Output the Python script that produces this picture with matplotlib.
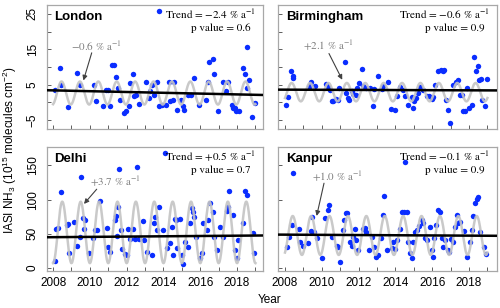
import matplotlib
matplotlib.use("Agg")
import matplotlib.pyplot as plt
import numpy as np

plt.rcParams['font.family'] = ['Liberation Sans', 'DejaVu Sans']
plt.rcParams['mathtext.fontset'] = 'stix'
plt.rcParams['mathtext.rm'] = 'Liberation Sans'
plt.rcParams['mathtext.it'] = 'Liberation Sans:italic'
plt.rcParams['mathtext.bf'] = 'Liberation Sans:bold'

# ---- monthly IASI NH3 columns (time in decimal years) ----
london_t = [2008.11, 2008.38, 2008.43, 2008.79, 2009.28, 2009.46, 2010.23, 2010.36, 2010.72, 2010.86,
            2011.0, 2011.08, 2011.23, 2011.31, 2011.44, 2011.53, 2011.62, 2011.85, 2011.98, 2012.12,
            2012.2, 2012.34, 2012.39, 2012.52, 2012.66, 2013.06, 2013.19, 2013.28, 2013.35, 2013.46,
            2013.64, 2013.76, 2013.78, 2013.93, 2014.15, 2014.29, 2014.36, 2014.5, 2014.59, 2014.72,
            2014.96, 2015.04, 2015.14, 2015.31, 2015.5, 2015.64, 2015.95, 2016.31, 2016.4, 2016.49,
            2016.67, 2016.76, 2016.94, 2017.24, 2017.39, 2017.53, 2017.71, 2017.78, 2017.89, 2017.96,
            2018.11, 2018.32, 2018.43, 2018.52, 2018.56, 2018.65, 2018.83, 2018.97]
london_v = [3.6, 9.7, 5.0, -1.3, 8.3, 5.0, 5.0, 0.3, -1.1, 3.6,
            3.4, -1.1, 10.6, 10.6, 7.3, 4.1, 0.8, -3.0, -2.5, -1.1,
            5.6, 8.1, 1.7, 2.2, -0.4, 5.9, 1.3, 3.1, 5.0, 2.2,
            5.9, 25.7, -1.1, -0.6, -0.6, 5.9, 0.3, 0.8, 5.9, -2.0,
            0.8, -1.1, -2.0, 2.2, 2.2, 6.9, -0.6, 0.8, 5.9, 11.3,
            12.2, 8.1, -2.5, 5.9, 3.1, 5.9, -0.6, -1.6, -1.6, -2.5,
            -2.5, 9.7, 8.1, 4.1, 15.6, 6.4, -4.1, -0.2]

birm_t = [2008.05, 2008.15, 2008.31, 2008.42, 2008.45, 2009.32, 2009.36, 2009.41, 2009.63, 2010.23,
          2010.35, 2010.45, 2010.54, 2010.63, 2010.77, 2010.9, 2010.95, 2011.26, 2011.32, 2011.44,
          2011.5, 2011.62, 2011.71, 2011.86, 2011.93, 2012.04, 2012.17, 2012.22, 2012.4, 2012.62,
          2012.77, 2012.84, 2013.07, 2013.26, 2013.34, 2013.58, 2013.74, 2013.98, 2014.07, 2014.25,
          2014.4, 2014.52, 2014.67, 2014.89, 2014.97, 2015.03, 2015.12, 2015.25, 2015.34, 2015.48,
          2015.7, 2015.84, 2015.97, 2016.06, 2016.15, 2016.33, 2016.46, 2016.57, 2016.66, 2016.75,
          2016.88, 2016.97, 2017.15, 2017.29, 2017.42, 2017.51, 2017.6, 2017.69, 2017.78, 2017.87,
          2018.0, 2018.15, 2018.29, 2018.36, 2018.51, 2018.56, 2018.64, 2018.72, 2018.87, 2018.96]
birm_v = [-0.7, 1.5, 9.0, 6.9, 7.5, 4.3, 5.0, 5.9, 4.7, 5.3,
          4.3, 3.4, 0.3, 0.3, 1.0, 0.8, 4.1, 11.3, 2.6, 1.2,
          0.6, 3.1, 2.5, 2.2, 4.1, 5.5, 9.5, 4.7, 4.1, 4.1,
          -1.1, 3.8, 7.5, 3.8, 4.7, 5.7, -1.9, -2.1, 1.7, 4.3,
          3.6, 1.7, -0.7, 1.5, -1.6, 0.3, 1.2, 2.8, 4.3, 3.6,
          1.7, 1.7, 1.0, 1.5, 5.0, 8.8, 9.2, 8.8, 9.1, 0.8,
          -2.1, -5.7, 5.0, 5.9, 6.2, 2.2, 2.2, -2.5, -2.5, 4.1,
          -1.6, -0.7, 12.8, 9.0, 10.4, 6.4, 6.6, 0.6, -0.9, 6.6]

delhi_t = [2008.11, 2008.16, 2008.29, 2008.43, 2008.74, 2008.83, 2008.89, 2009.14, 2009.32, 2009.47,
           2009.52, 2009.61, 2009.68, 2009.74, 2009.97, 2010.19, 2010.28, 2010.41, 2010.55, 2010.92,
           2011.01, 2011.1, 2011.37, 2011.42, 2011.46, 2011.55, 2011.58, 2011.68, 2011.73, 2011.91,
           2012.0, 2012.09, 2012.18, 2012.36, 2012.46, 2012.58, 2012.69, 2012.87, 2012.95, 2013.09,
           2013.36, 2013.49, 2013.54, 2013.67, 2013.78, 2014.0, 2014.09, 2014.18, 2014.36, 2014.45,
           2014.54, 2014.63, 2014.68, 2014.76, 2014.9, 2014.99, 2015.08, 2015.17, 2015.35, 2015.45,
           2015.54, 2015.59, 2015.66, 2015.77, 2015.99, 2016.08, 2016.17, 2016.35, 2016.44, 2016.53,
           2016.71, 2016.75, 2016.9, 2017.08, 2017.26, 2017.47, 2017.53, 2017.58, 2017.8, 2017.89,
           2017.98, 2018.07, 2018.34, 2018.43, 2018.53, 2018.85, 2018.92]
delhi_v = [10.2, 56.6, 58.1, 110.8, 63.0, 64.4, 21.5, 67.8, 32.2, 45.8,
           133.7, 72.7, 56.6, 70.3, 21.5, 43.4, 55.6, 55.6, 98.6, 58.1,
           31.2, 23.9, 70.3, 76.1, 46.9, 89.8, 145.0, 55.6, 27.4, 20.5,
           19.0, 56.6, 42.0, 56.6, 42.0, 148.3, 42.0, 68.8, 41.0, 23.9,
           19.0, 65.4, 74.2, 55.6, 89.8, 55.6, 168.8, 28.8, 36.2, 59.6,
           19.0, 71.3, 70.3, 28.8, 71.3, 19.0, 5.9, 38.5, 31.2, 65.4,
           87.4, 82.4, 75.1, 45.8, 14.2, 21.5, 65.4, 55.6, 70.3, 94.7,
           82.4, 45.8, 26.4, 60.5, 45.8, 83.9, 89.8, 112.7, 77.6, 26.4,
           14.2, 41.0, 66.3, 113.2, 106.9, 50.8, 21.5]

kanpur_t = [2008.09, 2008.24, 2008.36, 2008.42, 2008.78, 2008.82, 2008.96, 2009.27, 2009.4, 2009.45,
            2009.59, 2009.72, 2009.99, 2010.17, 2010.32, 2010.41, 2010.54, 2010.81, 2010.9, 2010.99,
            2011.13, 2011.22, 2011.32, 2011.39, 2011.53, 2011.62, 2011.71, 2011.8, 2011.86, 2011.98,
            2012.26, 2012.35, 2012.4, 2012.58, 2012.71, 2012.84, 2012.95, 2013.07, 2013.2, 2013.31,
            2013.4, 2013.53, 2013.8, 2013.89, 2013.98, 2014.07, 2014.25, 2014.34, 2014.47, 2014.52,
            2014.61, 2014.7, 2014.79, 2014.88, 2014.97, 2015.07, 2015.16, 2015.3, 2015.43, 2015.52,
            2015.61, 2015.7, 2015.88, 2015.97, 2016.03, 2016.1, 2016.21, 2016.33, 2016.42, 2016.52,
            2016.6, 2016.7, 2016.84, 2016.93, 2017.01, 2017.11, 2017.24, 2017.33, 2017.42, 2017.51,
            2017.73, 2017.87, 2018.05, 2018.15, 2018.23, 2018.33, 2018.42, 2018.5, 2018.6, 2018.82,
            2018.92]
kanpur_v = [31.2, 45.8, 63.0, 138.7, 56.6, 38.5, 32.2, 36.2, 54.6, 75.1,
            53.1, 43.4, 14.2, 72.7, 84.9, 92.2, 45.8, 32.2, 31.2, 9.2,
            55.6, 70.3, 80.1, 81.0, 38.5, 32.2, 45.8, 56.6, 41.0, 26.4,
            56.6, 58.1, 53.1, 26.4, 45.8, 31.2, 15.7, 19.0, 43.4, 77.6,
            105.4, 26.4, 28.8, 38.5, 27.4, 41.0, 56.6, 82.4, 82.4, 154.8,
            82.4, 38.5, 21.5, 14.2, 38.5, 53.1, 55.6, 61.5, 70.3, 65.4,
            43.4, 41.0, 60.5, 26.4, 16.5, 43.4, 63.0, 84.9, 82.4, 43.4,
            31.2, 41.0, 26.4, 23.9, 42.0, 38.5, 60.5, 77.6, 66.3, 67.8,
            54.6, 16.5, 38.5, 55.6, 76.1, 94.7, 100.6, 103.5, 53.1, 31.2,
            20.5]

names = ["London", "Birmingham", "Delhi", "Kanpur"]
trend_txt = ["\u22122.4", "\u22120.6", "+0.5", "\u22120.1"]
p_txt = ["0.6", "0.9", "0.7", "0.9"]
fit_txt = ["\u22120.6", "+2.1", "+3.7", "+1.0"]

# fitted seasonal cycle: mean, amplitude, time of peak (fraction of year)
seas_mean = [2.65, 2.9, 52.0, 47.5]
seas_amp = [3.25, 2.6, 45.0, 28.5]
seas_peak = [0.46, 0.36, 0.50, 0.42]

# black trend lines: value at 2008 and 2019
trend_2008 = [3.4, 3.6, 45.0, 48.7]
trend_2019 = [2.15, 3.4, 47.4, 47.1]

# annotation (text x, text y, arrow start x, y, arrow tip x, y)
ann = [(2010.37, 16.0, 2010.1, 14.0, 2009.65, 6.2),
       (2010.38, 16.0, 2010.39, 13.8, 2011.11, 6.4),
       (2011.39, 126.4, 2010.37, 115.2, 2009.68, 93.7),
       (2010.84, 133.2, 2010.12, 124.0, 2009.72, 76.1)]

series = [(london_t, london_v), (birm_t, birm_v), (delhi_t, delhi_v), (kanpur_t, kanpur_v)]

W, H = 500, 308
boxes = [(47, 5, 263, 129), (278, 5, 497, 129), (47, 147, 263, 271), (278, 147, 497, 271)]
xlims = [(2007.67, 2019.41), (2007.62, 2019.52), (2007.67, 2019.41), (2007.62, 2019.52)]

fig = plt.figure(figsize=(5.0, 3.08), dpi=100)

serif = 'STIXGeneral'
for i, (x0, y0, x1, y1) in enumerate(boxes):
    ax = fig.add_axes([x0 / W, 1 - y1 / H, (x1 - x0) / W, (y1 - y0) / H])
    t = np.array(series[i][0])
    v = np.array(series[i][1])
    ax.plot(t, v, 'o', color='#0a2dff', ms=3.9, mec='none', zorder=2)

    tt = np.linspace(2008.0, 2019.0, 600)
    seas = seas_mean[i] + seas_amp[i] * np.cos(2 * np.pi * (tt - 2008 - seas_peak[i]))
    ax.plot(tt, seas, color='#c4c4c4', lw=1.8, alpha=0.9, zorder=3)
    ax.axline((2008, trend_2008[i]), (2019, trend_2019[i]), color='black', lw=1.8, zorder=4)

    ax.set_xlim(*xlims[i])
    if i < 2:
        ax.set_ylim(-7.5, 27.5)
        ax.set_yticks([-5, 5, 15, 25])
        ax.set_yticks([0, 10, 20], minor=True)
    else:
        ax.set_ylim(-4.5, 177)
        ax.set_yticks([0, 50, 100, 150])
    ax.set_xticks(range(2008, 2019, 2))
    ax.set_xticks(range(2009, 2020, 2), minor=True)
    ax.tick_params(which='both', direction='in', length=3, width=0.6, color='#444444',
                   labelsize=8.5, pad=4)
    ax.tick_params(axis='y', which='both', pad=6)
    for lab in ax.get_yticklabels():
        lab.set_rotation(90)
        lab.set_va('center')
    if i % 2 == 1:
        ax.tick_params(axis='y', labelleft=False)
    if i < 2:
        ax.tick_params(axis='x', labelbottom=False)
    for s in ax.spines.values():
        s.set_color('#a8a8a8')
        s.set_linewidth(0.9)

    ax.text(0.035, 0.90, names[i], transform=ax.transAxes, fontsize=9.5,
            fontweight='bold', ha='left', va='center')
    ax.text(0.965, 0.925, 'Trend = ' + trend_txt[i] + ' % a$^{-1}$', transform=ax.transAxes,
            fontsize=8, family=serif, ha='right', va='center')
    ax.text(0.945, 0.815, 'p value = ' + p_txt[i], transform=ax.transAxes,
            fontsize=8, family=serif, ha='right', va='center')
    tx, ty, sx, sy, hx, hy = ann[i]
    ax.text(tx, ty, fit_txt[i] + ' % a$^{-1}$', fontsize=8, family=serif,
            color='#7f7f7f', ha='center', va='center', zorder=5)
    ax.annotate('', xy=(hx, hy), xytext=(sx, sy),
                arrowprops=dict(arrowstyle='-|>', color='#404040', lw=0.8,
                                mutation_scale=7, shrinkA=0, shrinkB=0), zorder=5)

fig.text(10 / W, 1 - 150 / H, 'IASI NH$_3$ (10$^{15}$ molecules cm$^{-2}$)',
         rotation=90, ha='center', va='center', fontsize=8.5, math_fontfamily='custom')
fig.text(270 / W, 1 - 300 / H, 'Year', ha='center', va='center', fontsize=8.5)

fig.savefig('out.png', dpi=100)
